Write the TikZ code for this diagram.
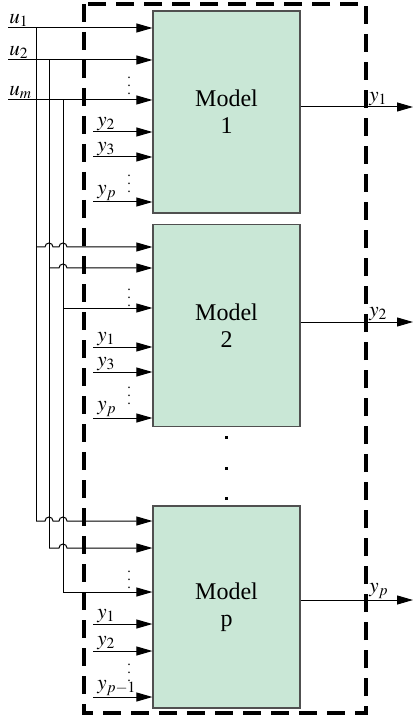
\documentclass[tikz,border=0pt]{standalone}
\usepackage{mathptmx}
\usepackage{fontspec}
\setmainfont{Liberation Serif}
\usetikzlibrary{arrows.meta,positioning}
\definecolor{mdlfill}{HTML}{C9E7D6}
\definecolor{mdldraw}{HTML}{505050}
\tikzset{
  mdl/.style={draw=mdldraw,fill=mdlfill,line width=0.6pt,minimum width=73.5pt,minimum height=101pt,inner sep=0pt,align=center,font=\fontsize{12}{13.5}\selectfont},
  ar/.style={-{Triangle[length=8pt,width=4.5pt]},line width=0.5pt},
  ln/.style={line width=0.5pt},
  lb/.style={font=\fontsize{10.5}{12}\selectfont,inner sep=0.5pt},
  vd/.style={font=\scriptsize,inner sep=0pt},
  frame/.style={line width=1.7pt,dash pattern=on 9pt off 5pt}
}
\begin{document}
\begin{tikzpicture}[x=0.5pt,y=0.5pt]
\useasboundingbox (0,0) rectangle (414,-721);
% models
\node[mdl] (m1) at (226.5,-112) {Model\\1};
\node[mdl] (m2) at (226.5,-325.5) {Model\\2};
\node[mdl] (mp) at (226.5,-607) {Model\\p};
\draw[frame] (84,-4) rectangle (366,-713);
% external inputs
\coordinate (u1) at (8,-28);
\coordinate (u2) at (8,-60);
\coordinate (um) at (8,-100);
\foreach \c/\lab in {u1/u_1,u2/u_2,um/u_m}{
  \draw[ar] (\c) -- (\c -| m1.west);
  \node[lb,above right] at (\c) {$\lab$};
}
\coordinate (j1) at (36,-28);
\coordinate (j2) at (49,-60);
\coordinate (j3) at (63,-100);
\draw[ln] (j1) -- (36,-521);
\draw[ln] (j2) -- (49,-548);
\draw[ln] (j3) -- (63,-592);
\foreach \m/\ya/\yb/\yc in {m2/247/268/308,mp/521/548/592}{
  \draw[ar] (36,-\ya) -- ++(9,0) arc (180:0:4) -- ++(6,0) arc (180:0:4) -- (\m.west |- 0,-\ya);
  \draw[ar] (49,-\yb) -- ++(10,0) arc (180:0:4) -- (\m.west |- 0,-\yb);
  \draw[ar] (63,-\yc) -- (\m.west |- 0,-\yc);
}
% fed back outputs
\foreach \m/\yy/\lab in {m1/132/y_2,m1/157/y_3,m1/202/y_p,m2/347/y_1,m2/372/y_3,m2/418/y_p,mp/624/y_1,mp/651/y_2,mp/697/y_{p-1}}{
  \coordinate (s) at (93,-\yy);
  \draw[ar] (s) -- (s -| \m.west);
  \node[lb,above right,xshift=1.5pt] at (s) {$\lab$};
}
\foreach \yy in {80,178,292,390,574,667}
  \node[vd] at (129,-\yy) {$\vdots$};
\foreach \yy in {437,468,498}
  \fill (224.5,-\yy+1.5) rectangle ++(3,-3);
% outputs
\foreach \m/\yy/\lab in {m1/107/y_1,m2/322/y_2,mp/600/y_p}{
  \coordinate (o) at (\m.east |- 0,-\yy);
  \draw[ar] (o) -- (413,-\yy);
  \node[lb,above right] at (368,-\yy) {$\lab$};
}
\end{tikzpicture}
\end{document}
